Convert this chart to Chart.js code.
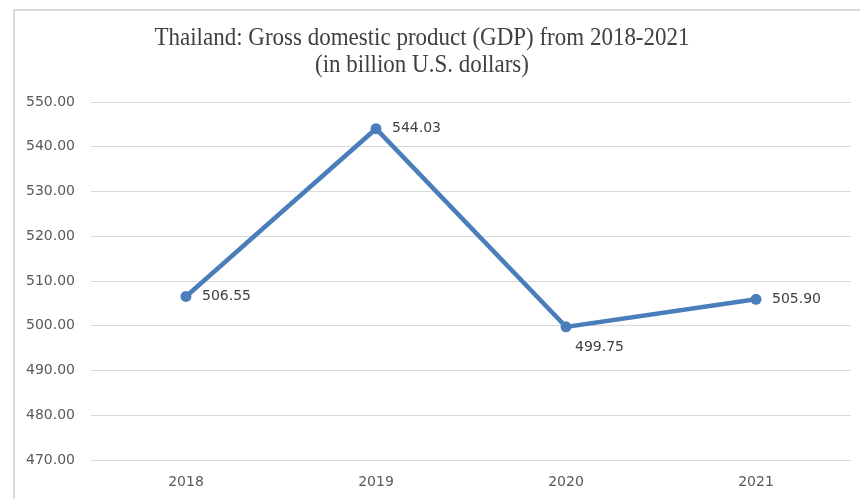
<!DOCTYPE html>
<html>
<head>
<meta charset="utf-8">
<script src="https://cdn.jsdelivr.net/npm/chart.js@4/dist/chart.umd.min.js"></script>
<style>
html,body{margin:0;padding:0;background:#fff;overflow:hidden;}
#wrap{position:relative;width:860px;height:499px;}
</style>
</head>
<body>
<div id="wrap"><canvas id="c" width="860" height="499"></canvas></div>
<script>
const categories = ['2018', '2019', '2020', '2021'];
const gdpValues = [506.55, 544.03, 499.75, 505.90];
const titleLines = ['Thailand: Gross domestic product (GDP) from 2018-2021', '(in billion U.S. dollars)'];
const yMin = 470, yMax = 550, yStep = 10;
// label placement per point: 'right' or 'below'
const labelPlacement = ['right', 'right', 'below', 'right'];

const LINE_COLOR = '#4a7ebb';
const GRID_COLOR = '#d9d9d9';

const frameTitlePlugin = {
  id: 'frameTitle',
  beforeDraw(chart) {
    const ctx = chart.ctx;
    ctx.save();
    ctx.fillStyle = '#fff';
    ctx.fillRect(0, 0, chart.width, chart.height);
    ctx.strokeStyle = GRID_COLOR;
    ctx.lineWidth = 2;
    ctx.beginPath();
    ctx.moveTo(14, chart.height + 5);
    ctx.lineTo(14, 10);
    ctx.lineTo(chart.width + 5, 10);
    ctx.stroke();
    // title
    ctx.fillStyle = '#404040';
    ctx.font = '26px "Liberation Serif", "Times New Roman", serif';
    ctx.textBaseline = 'alphabetic';
    ctx.textAlign = 'center';
    const w = ctx.measureText(titleLines[0]).width;
    const sx = 535 / w;
    const cx = 422;
    [45, 72].forEach((by, i) => {
      ctx.save();
      ctx.translate(cx, by);
      ctx.scale(sx, 1);
      ctx.fillText(titleLines[i], 0, 0);
      ctx.restore();
    });
    ctx.restore();
  },
  afterDatasetsDraw(chart) {
    const ctx = chart.ctx;
    const meta = chart.getDatasetMeta(0);
    ctx.save();
    ctx.fillStyle = '#404040';
    ctx.font = '14px "DejaVu Sans", sans-serif';
    ctx.textAlign = 'left';
    ctx.textBaseline = 'middle';
    meta.data.forEach((pt, i) => {
      const txt = gdpValues[i].toFixed(2);
      if (labelPlacement[i] === 'below') {
        ctx.fillText(txt, pt.x + 9, pt.y + 20);
      } else {
        ctx.fillText(txt, pt.x + 16, pt.y);
      }
    });
    ctx.restore();
  }
};

new Chart(document.getElementById('c'), {
  type: 'line',
  data: {
    labels: categories,
    datasets: [{
      data: gdpValues,
      borderColor: LINE_COLOR,
      backgroundColor: LINE_COLOR,
      borderWidth: 4.5,
      pointRadius: 5.5,
      pointBorderWidth: 0,
      pointBackgroundColor: LINE_COLOR,
      tension: 0,
      fill: false
    }]
  },
  options: {
    responsive: false,
    animation: false,
    devicePixelRatio: 1,
    layout: { padding: { top: 102, right: 9, bottom: 0, left: 0 } },
    plugins: {
      legend: { display: false },
      title: { display: false },
      tooltip: { enabled: false }
    },
    scales: {
      x: {
        offset: true,
        grid: { display: false, drawTicks: false },
        border: { display: false },
        ticks: {
          color: '#595959',
          font: { family: '"DejaVu Sans", sans-serif', size: 14 },
          padding: 14,
          maxRotation: 0
        },
        afterFit(scale) { scale.height = 39; }
      },
      y: {
        min: yMin,
        max: yMax,
        grid: { color: GRID_COLOR, lineWidth: 1, drawTicks: false },
        border: { display: false },
        ticks: {
          stepSize: yStep,
          color: '#595959',
          font: { family: '"DejaVu Sans", sans-serif', size: 14 },
          padding: 16,
          callback: v => Number(v).toFixed(2)
        },
        afterFit(scale) { scale.width = 91; }
      }
    }
  },
  plugins: [frameTitlePlugin]
});
</script>
</body>
</html>
